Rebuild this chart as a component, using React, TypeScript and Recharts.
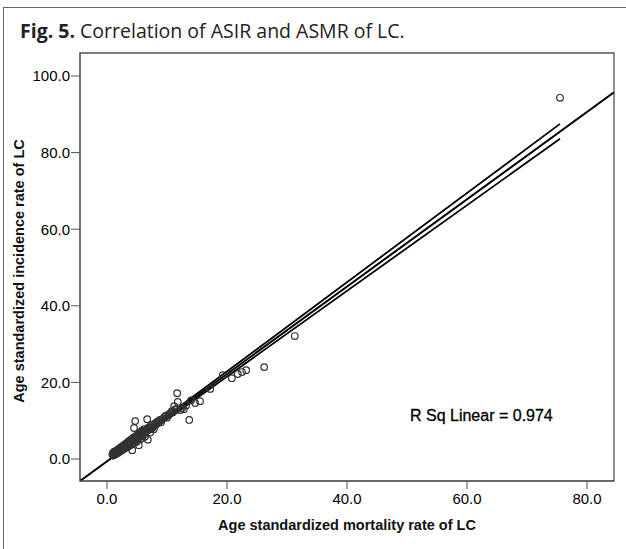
import React from 'react';
import { ComposedChart, Scatter, Line, XAxis, YAxis, ReferenceArea, Label } from 'recharts';

// age standardized mortality (x) and incidence (y) per point
const mortality = [
  0.9, 1.0, 1.1, 1.2, 1.3, 1.4, 1.5, 1.6, 1.7, 1.8,
  1.9, 2.0, 2.1, 2.2, 2.3, 2.4, 2.5, 2.6, 2.7, 2.8,
  2.9, 3.0, 3.1, 3.2, 3.3, 3.4, 3.5, 3.6, 3.7, 3.8,
  3.9, 4.0, 4.1, 4.2, 4.2, 4.3, 4.4, 4.5, 4.6, 4.7,
  4.8, 4.9, 5.0, 5.1, 5.2, 5.3, 5.4, 5.5, 5.6, 5.7,
  5.8, 5.9, 6.0, 6.2, 6.3, 6.5, 6.7, 6.8, 6.9, 7.0,
  7.2, 7.4, 7.6, 7.8, 8.0, 8.3, 8.5, 8.8, 9.0, 9.3,
  9.6, 10.0, 10.3, 10.6, 11.0, 11.2, 11.5, 11.7, 11.8, 12.2,
  12.5, 12.8, 13.2, 13.7, 14.0, 14.7, 15.5, 17.2, 19.3, 20.8,
  21.8, 22.5, 23.2, 26.2, 31.3, 75.5,
  1.2, 1.5, 1.8, 2.0, 2.3, 2.5, 2.7, 2.9, 3.1, 3.3,
  3.5, 3.6, 3.8, 4.0, 4.1, 4.3, 4.5, 4.6, 4.8, 5.0,
  5.1, 5.3, 5.5, 5.7, 5.9, 6.1, 6.3, 6.6, 6.8, 7.1,
  7.3, 7.6, 7.9, 8.2, 8.6, 9.1, 9.8, 10.4, 10.8, 11.4,
];
const incidence = [
  1.2, 1.6, 1.0, 1.9, 1.4, 2.0, 1.3, 1.8, 2.4, 1.6,
  2.1, 2.7, 1.9, 2.4, 3.0, 2.2, 2.8, 3.4, 2.5, 3.1,
  3.7, 2.9, 3.4, 4.1, 3.0, 3.6, 4.4, 3.3, 4.0, 4.8,
  3.6, 4.3, 5.2, 3.9, 2.3, 4.7, 5.6, 8.1, 4.2, 9.9,
  5.0, 6.0, 4.6, 5.4, 6.5, 3.6, 5.8, 6.9, 5.2, 6.2,
  7.4, 5.5, 6.6, 7.8, 5.8, 7.1, 10.4, 5.0, 7.6, 8.3,
  6.9, 8.0, 9.0, 7.8, 8.8, 9.7, 9.4, 10.2, 9.6, 10.5,
  11.0, 10.8, 11.5, 12.0, 12.2, 13.8, 12.8, 17.2, 14.9, 12.8,
  13.3, 13.0, 14.0, 10.2, 15.3, 14.6, 15.1, 18.3, 21.9, 21.1,
  22.2, 22.7, 23.2, 24.0, 32.1, 94.3,
  1.1, 1.9, 2.2, 2.0, 2.6, 2.4, 3.2, 3.0, 3.9, 3.8,
  3.9, 4.6, 4.2, 5.0, 4.5, 5.3, 4.9, 5.8, 5.5, 6.2,
  5.0, 6.0, 6.3, 7.0, 6.8, 7.2, 7.0, 7.6, 8.0, 7.9,
  8.6, 8.2, 9.2, 9.0, 9.8, 10.2, 11.3, 11.8, 12.5, 13.0,
];

// fit line (spans the whole plot) and its confidence band
const fitX = [-4.5, 84.5];
const fitY = [-5.74, 95.76];
const ciX = [0.9, 7.0, 75.5];
const ciUpper = [0.95, 7.75, 87.5];
const ciLower = [-0.1, 7.0, 83.6];

const xTicks = [0, 20, 40, 60, 80];
const yTicks = [0, 20, 40, 60, 80, 100];
const xDomain: [number, number] = [-4.5, 84.5];
const yDomain: [number, number] = [-5.74, 106.0];

const points = mortality.map((x, i) => ({ x, y: incidence[i] }));
const fitData = fitX.map((x, i) => ({ x, y: fitY[i] }));
const upperData = ciX.map((x, i) => ({ x, y: ciUpper[i] }));
const lowerData = ciX.map((x, i) => ({ x, y: ciLower[i] }));

const tickFont = { fontFamily: 'Liberation Sans, Arial, sans-serif', fontSize: 15, fill: '#000' };
const titleFont = { fontFamily: 'Liberation Sans, Arial, sans-serif', fontSize: 14.5, fontWeight: 700, fill: '#111' };

const Ring = (props: any) => {
  const { cx, cy } = props;
  if (cx == null || cy == null) return null;
  return <circle cx={cx} cy={cy} r={3.3} fill="none" stroke="#333" strokeWidth={1.2} />;
};

const App: React.FC = () => {
  return (
    <div style={{ position: 'absolute', left: 0, top: 0, width: 626, height: 549, background: '#fff', overflow: 'hidden' }}>
      <div style={{ position: 'absolute', left: 3, top: 7, width: 640, height: 570, border: '1.5px solid #666' }} />
      <ComposedChart
        width={626}
        height={549}
        margin={{ top: 53, right: 12, left: 0, bottom: 0 }}
        style={{ position: 'absolute', left: 0, top: 0 }}
      >
        <XAxis
          dataKey="x"
          type="number"
          domain={xDomain}
          ticks={xTicks}
          allowDataOverflow
          height={68}
          tickSize={8}
          tickMargin={4}
          stroke="#555"
          tick={tickFont}
          tickFormatter={(t) => t.toFixed(1)}
        >
          <Label value="Age standardized mortality rate of LC" position="insideBottom" offset={19} style={titleFont} />
        </XAxis>
        <YAxis
          dataKey="y"
          type="number"
          domain={yDomain}
          ticks={yTicks}
          allowDataOverflow
          width={80}
          tickSize={9}
          tickMargin={1}
          stroke="#555"
          tick={tickFont}
          tickFormatter={(t) => t.toFixed(1)}
        >
          <Label value="Age standardized incidence rate of LC" angle={-90} position="insideLeft" offset={19} dy={4} style={{ ...titleFont, textAnchor: 'middle' }} />
        </YAxis>
        <ReferenceArea x1={xDomain[0]} x2={xDomain[1]} y1={yDomain[0]} y2={yDomain[1]} fill="none" stroke="#555" strokeWidth={1.3} />
        <Line data={fitData} dataKey="y" type="linear" stroke="#000" strokeWidth={2} dot={false} isAnimationActive={false} />
        <Line data={upperData} dataKey="y" type="linear" stroke="#000" strokeWidth={1.8} dot={false} isAnimationActive={false} />
        <Line data={lowerData} dataKey="y" type="linear" stroke="#000" strokeWidth={1.8} dot={false} isAnimationActive={false} />
        <Scatter data={points} dataKey="y" shape={<Ring />} isAnimationActive={false} />
      </ComposedChart>
      <svg width={626} height={549} style={{ position: 'absolute', left: 0, top: 0, pointerEvents: 'none' }}>
        <text x={20} y={38} fontFamily="Open Sans, Noto Sans, sans-serif" fontSize={19.5} fill="#222">
          <tspan fontWeight={700}>Fig. 5.</tspan>
          <tspan> Correlation of ASIR and ASMR of LC.</tspan>
        </text>
        <text x={410} y={421} fontFamily="Liberation Sans, Arial, sans-serif" fontSize={16} fill="#000" stroke="#000" strokeWidth={0.3}>
          R Sq Linear = 0.974
        </text>
      </svg>
    </div>
  );
};

export default App;
